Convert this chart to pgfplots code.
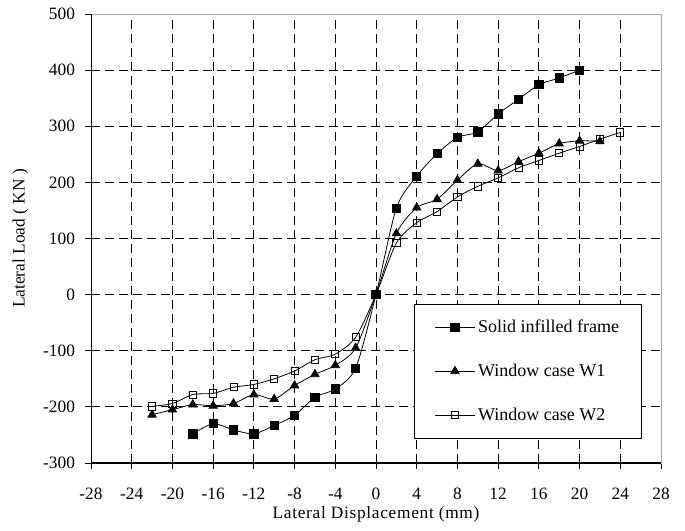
\documentclass[border=0pt]{standalone}
\usepackage{pgfplots}
\pgfplotsset{compat=1.18}
\usepackage{fontspec}
\setmainfont{Liberation Serif}

\pgfplotstableread{
x y
-18 -248
-16 -230
-14 -241
-12 -248
-10 -233
-8 -215
-6 -183
-4 -168
-2 -131
0 0
2 154
4 211
6 251
8 280
10 290
12 322
14 348
16 374
18 386
20 400
}\solid

\pgfplotstableread{
x y
-22 -214
-20 -205
-18 -196
-16 -198
-14 -194
-12 -178
-10 -186
-8 -162
-6 -142
-4 -126
-2 -95
0 0
2 109
4 155
6 170
8 204
10 233
12 221
14 237
16 252
18 269
20 274
22 273
}\wone

\pgfplotstableread{
x y
-22 -199
-20 -194
-18 -178
-16 -176
-14 -165
-12 -160
-10 -150
-8 -136
-6 -116
-4 -106
-2 -76
0 0
2 92
4 128
6 148
8 174
10 193
12 208
14 226
16 239
18 252
20 264
22 277
24 289
}\wtwo

\begin{document}
\begin{tikzpicture}
\begin{axis}[
  scale only axis,
  width=427.5pt, height=336.75pt,
  xmin=-28, xmax=28, ymin=-300, ymax=500,
  xtick={-28,-24,...,28},
  ytick={-300,-200,...,500},
  grid=major,
  major grid style={black, line width=0.6pt, dash pattern=on 7pt off 3.5pt},
  axis line style={draw=gray!70, line width=0.6pt},
  tick align=outside, xtick pos=left, ytick pos=left,
  major tick length=4.5pt,
  tick style={black, line width=0.6pt},
  /pgf/number format/assume math mode=true,
  tick label style={font=\fontsize{13}{15}\selectfont},
  xticklabel style={yshift=-11pt},
  yticklabel style={xshift=-4pt},
  xlabel={Lateral Displacement (mm)},
  ylabel={Lateral Load ( KN )},
  xlabel style={font=\fontsize{13}{15}\selectfont\addfontfeature{LetterSpace=4},
    at={(axis description cs:0.5,0)}, anchor=north, yshift=-29pt},
  ylabel style={font=\fontsize{13}{15}\selectfont,
    at={(axis description cs:0,0.5)}, anchor=center, yshift=53pt},
  legend cell align=left,
  legend style={at={(axis cs:3.75,-16)}, anchor=north west,
    draw=black, line width=0.6pt,
    font=\fontsize{13.5}{15}\selectfont,
    inner xsep=15pt, inner ysep=10pt, row sep=18pt},
  legend image code/.code={%
    \draw[mark repeat=2, mark phase=2] plot coordinates {(0pt,0pt) (15pt,0pt) (30pt,0pt)};},
  every axis plot/.append style={black, line width=0.6pt, smooth, tension=0.45},
]
\addplot[mark=square*, mark size=3.1pt, mark options={solid}] table {\solid};
\addlegendentry{Solid infilled frame}
\addplot[mark=triangle*, mark size=3.6pt, mark options={solid}] table {\wone};
\addlegendentry{Window case W1}
\addplot[mark=square, mark size=2.7pt, mark options={solid, fill=white}] table {\wtwo};
\addlegendentry{Window case W2}
\draw[black, line width=1.1pt] (rel axis cs:0,1) -- (rel axis cs:0,0) -- (rel axis cs:1,0);
\end{axis}
\pgfresetboundingbox
\useasboundingbox ([shift={(-68.25pt,-50.25pt)}]current axis.south west)
  rectangle ([shift={(18pt,10.5pt)}]current axis.north east);
\end{tikzpicture}
\end{document}
